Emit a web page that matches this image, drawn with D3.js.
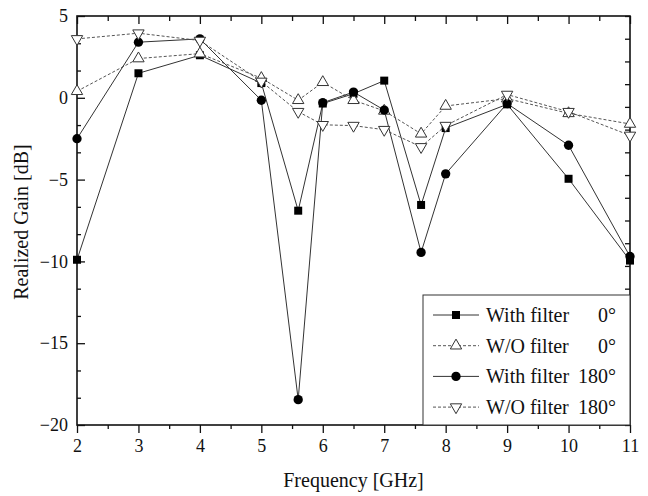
<!DOCTYPE html>
<html>
<head>
<meta charset="utf-8">
<script src="https://cdn.jsdelivr.net/npm/d3@7"></script>
<style>
  body { margin: 0; background: #fff; }
  text { font-family: "Liberation Serif", "Times New Roman", serif; fill: #111; }
</style>
</head>
<body>
<div id="chart"></div>
<script>
var freq = [2, 3, 4, 5, 5.6, 6, 6.5, 7, 7.6, 8, 9, 10, 11];
var withFilter0 = [-9.9, 1.5, 2.6, 0.9, -6.9, -0.35, 0.25, 1.05, -6.55, -1.85, -0.4, -4.95, -9.95];
var woFilter0 = [0.4, 2.4, 2.7, 1.2, -0.15, 0.95, -0.15, -0.8, -2.2, -0.5, -0.05, -0.95, -1.6];
var withFilter180 = [-2.5, 3.4, 3.6, -0.15, -18.45, -0.3, 0.35, -0.75, -9.45, -4.65, -0.35, -2.9, -9.7];
var woFilter180 = [3.6, 3.95, 3.5, 1.0, -0.85, -1.65, -1.7, -1.95, -3.0, -1.7, 0.2, -0.85, -2.3];

var xTicks = [2, 3, 4, 5, 6, 7, 8, 9, 10, 11];
var yTicks = [5, 0, -5, -10, -15, -20];

var series = [
  { name: "With filter", angle: "0°", values: withFilter0, symbol: "square", dashed: false },
  { name: "W/O filter", angle: "0°", values: woFilter0, symbol: "up", dashed: true },
  { name: "With filter", angle: "180°", values: withFilter180, symbol: "circle", dashed: false },
  { name: "W/O filter", angle: "180°", values: woFilter180, symbol: "down", dashed: true }
];

var svgWidth = 648;
var svgHeight = 496;
var margin = { top: 16, right: 18, bottom: 71, left: 77 };
var width = svgWidth - margin.left - margin.right;
var height = svgHeight - margin.top - margin.bottom;

var svg = d3.select("#chart")
  .append("svg")
  .attr("width", svgWidth)
  .attr("height", svgHeight);

var g = svg.append("g")
  .attr("transform", `translate(${margin.left}, ${margin.top})`);

var x = d3.scaleLinear().domain([2, 11]).range([0, width]);
var y = d3.scaleLinear().domain([-20, 5]).range([height, 0]);

var halfTicks = d3.range(2.5, 11, 1);
var yMinor = d3.range(-20, 5, 5 / 3).filter(v => Math.abs(v / 5 - Math.round(v / 5)) > 0.01);
var yRight = d3.range(0, 19).map(i => -20 + i * 25 / 18);

function styleAxis(sel) {
  sel.select(".domain").remove();
  sel.selectAll("line").attr("stroke", "#111").attr("stroke-width", 1.3);
  sel.selectAll("text").attr("font-size", "18px").attr("fill", "#111");
}

// bottom axis, ticks outward
g.append("g")
  .attr("transform", `translate(0, ${height})`)
  .call(d3.axisBottom(x).tickValues(xTicks).tickSize(8).tickPadding(6).tickFormat(d3.format("d")))
  .call(styleAxis);
g.append("g")
  .attr("transform", `translate(0, ${height})`)
  .call(d3.axisBottom(x).tickValues(halfTicks).tickSize(4).tickFormat(""))
  .call(styleAxis);

// top axis, ticks inward
g.append("g")
  .call(d3.axisBottom(x).tickValues(xTicks).tickSize(8).tickFormat(""))
  .call(styleAxis);
g.append("g")
  .call(d3.axisBottom(x).tickValues(halfTicks).tickSize(5).tickFormat(""))
  .call(styleAxis);

// left axis, ticks inward
var left = g.append("g")
  .call(d3.axisRight(y).tickValues(yTicks).tickSize(8).tickFormat(d3.format("d")))
  .call(styleAxis);
left.selectAll("text")
  .attr("x", -9)
  .attr("text-anchor", "end");
g.append("g")
  .call(d3.axisRight(y).tickValues(yMinor).tickSize(4).tickFormat(""))
  .call(styleAxis);

// right axis, ticks inward
g.append("g")
  .attr("transform", `translate(${width}, 0)`)
  .call(d3.axisLeft(y).tickValues(yRight).tickSize(5).tickFormat(""))
  .call(styleAxis);

// frame
g.append("rect")
  .attr("width", width)
  .attr("height", height)
  .attr("fill", "none")
  .attr("stroke", "#111")
  .attr("stroke-width", 1.6);

// lines + markers
var line = d3.line()
  .x((d, i) => x(freq[i]))
  .y(d => y(d));

function symbolPath(kind) {
  if (kind == "square") return d3.symbol(d3.symbolSquare, 64)();
  if (kind == "circle") return d3.symbol(d3.symbolCircle, 68)();
  return d3.symbol(d3.symbolTriangle, 56)();
}

function drawMarker(sel, kind) {
  sel.append("path")
    .attr("d", symbolPath(kind))
    .attr("transform", kind == "down" ? "rotate(180)" : null)
    .attr("fill", (kind == "up" || kind == "down") ? "#fff" : "#000")
    .attr("stroke", (kind == "up" || kind == "down") ? "#333" : "none")
    .attr("stroke-width", 1);
}

series.forEach(s => {
  g.append("path")
    .datum(s.values)
    .attr("d", line)
    .attr("fill", "none")
    .attr("stroke", s.dashed ? "#555" : "#333")
    .attr("stroke-width", 1)
    .attr("stroke-dasharray", s.dashed ? "3,2" : null);
});

series.forEach(s => {
  g.selectAll(null)
    .data(s.values)
    .enter()
    .append("g")
    .attr("transform", (d, i) => `translate(${x(freq[i])}, ${y(d)})`)
    .each(function() { drawMarker(d3.select(this), s.symbol); });
});

// legend
var legX = 346, legY = 279;
var legend = g.append("g");
legend.append("rect")
  .attr("x", legX)
  .attr("y", legY)
  .attr("width", width - legX)
  .attr("height", height - legY)
  .attr("fill", "#fff")
  .attr("stroke", "#333")
  .attr("stroke-width", 1);

series.forEach((s, i) => {
  var row = legend.append("g")
    .attr("transform", `translate(${legX}, ${legY + 20 + i * 30.7})`);
  row.append("line")
    .attr("x1", 10).attr("x2", 56)
    .attr("stroke", s.dashed ? "#555" : "#333")
    .attr("stroke-width", 1)
    .attr("stroke-dasharray", s.dashed ? "3,2" : null);
  var m = row.append("g").attr("transform", "translate(33, 0)");
  drawMarker(m, s.symbol);
  row.append("text")
    .attr("x", 63)
    .attr("dy", "0.35em")
    .attr("font-size", "20px")
    .text(s.name);
  row.append("text")
    .attr("x", 193)
    .attr("dy", "0.35em")
    .attr("font-size", "20px")
    .attr("text-anchor", "end")
    .text(s.angle);
});

// axis titles
svg.append("text")
  .attr("x", margin.left + width / 2)
  .attr("y", 487)
  .attr("text-anchor", "middle")
  .attr("font-size", "20px")
  .text("Frequency [GHz]");

svg.append("text")
  .attr("transform", "rotate(-90)")
  .attr("x", -222)
  .attr("y", 28)
  .attr("text-anchor", "middle")
  .attr("font-size", "20px")
  .text("Realized Gain [dB]");
</script>
</body>
</html>
